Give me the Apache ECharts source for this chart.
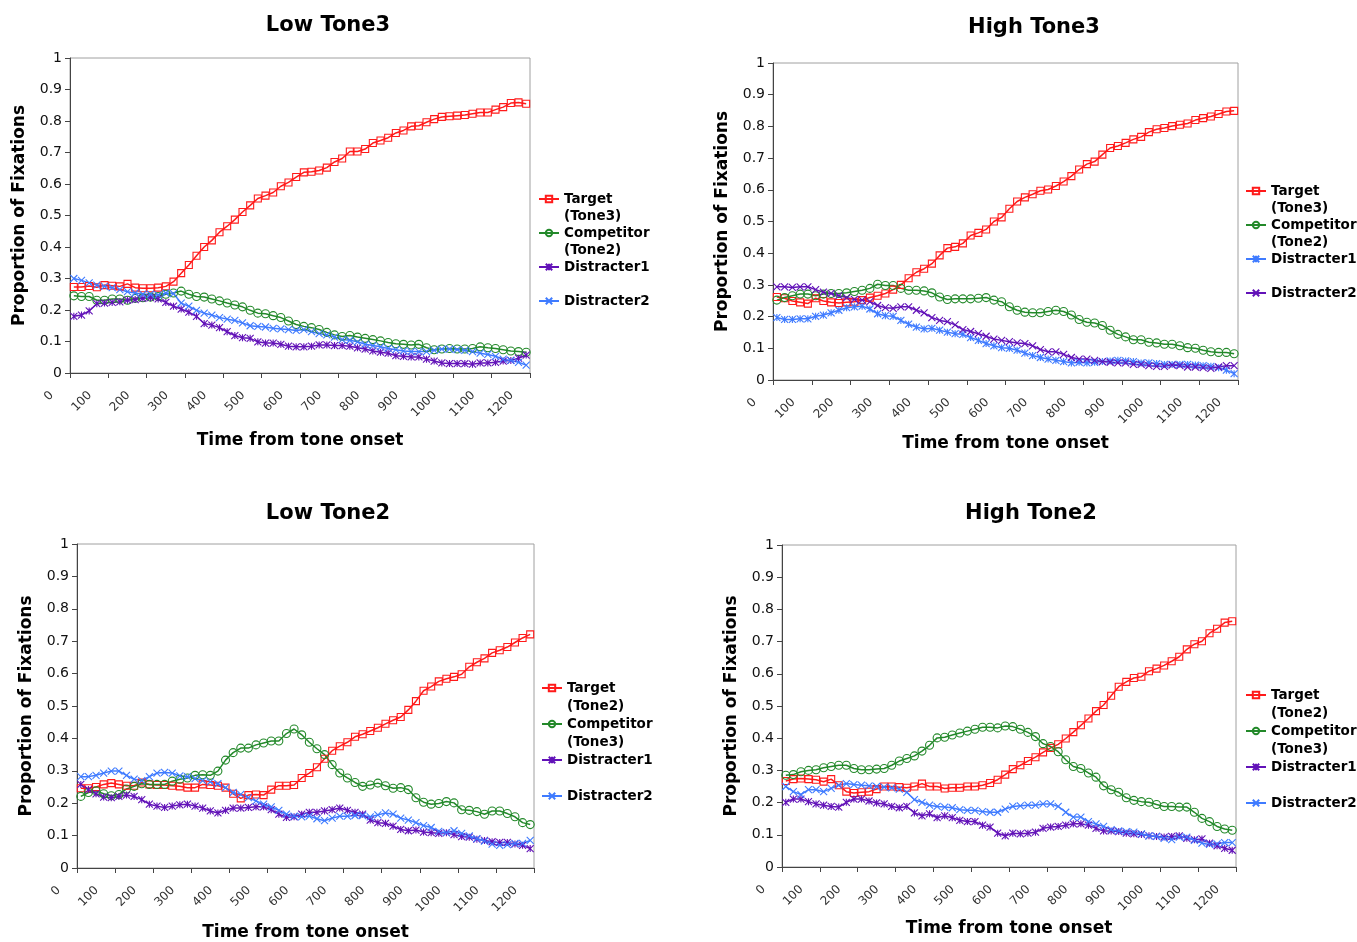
<!DOCTYPE html>
<html>
<head>
<meta charset="utf-8">
<title>Proportion of Fixations</title>
<script src="https://cdn.jsdelivr.net/npm/echarts@6/dist/echarts.min.js"></script>
<style>
  html, body { margin: 0; padding: 0; background: #fff; }
  #chart { width: 1357px; height: 942px; }
</style>
</head>
<body>
<div id="chart"></div>
<script>
// time bins (ms from tone onset, bin centres)
const times = [10, 30, 50, 70, 90, 110, 130, 150, 170, 190, 210, 230, 250, 270, 290, 310, 330, 350, 370, 390,
  410, 430, 450, 470, 490, 510, 530, 550, 570, 590, 610, 630, 650, 670, 690, 710, 730, 750, 770, 790,
  810, 830, 850, 870, 890, 910, 930, 950, 970, 990, 1010, 1030, 1050, 1070, 1090, 1110, 1130, 1150, 1170, 1190];

const panelTitles = ['Low Tone3', 'High Tone3', 'Low Tone2', 'High Tone2'];
const tone3Labels = ['Target\n(Tone3)', 'Competitor\n(Tone2)', 'Distracter1', 'Distracter2'];
const tone2Labels = ['Target\n(Tone2)', 'Competitor\n(Tone3)', 'Distracter1', 'Distracter2'];

// Low Tone3
const lowT3Target = [0.273, 0.273, 0.276, 0.272, 0.279, 0.277, 0.275, 0.283, 0.271, 0.269,
  0.269, 0.271, 0.275, 0.29, 0.317, 0.343, 0.372, 0.40, 0.421, 0.447,
  0.466, 0.487, 0.511, 0.532, 0.554, 0.563, 0.573, 0.593, 0.605, 0.622,
  0.637, 0.639, 0.643, 0.652, 0.670, 0.681, 0.703, 0.703, 0.711, 0.730,
  0.738, 0.747, 0.762, 0.770, 0.783, 0.785, 0.796, 0.806, 0.813, 0.815,
  0.817, 0.819, 0.823, 0.827, 0.827, 0.836, 0.844, 0.857, 0.859, 0.855];
const lowT3Competitor = [0.245, 0.243, 0.243, 0.231, 0.231, 0.235, 0.235, 0.231, 0.237, 0.239,
  0.241, 0.243, 0.25, 0.254, 0.26, 0.25, 0.243, 0.241, 0.235, 0.229,
  0.222, 0.216, 0.21, 0.199, 0.19, 0.188, 0.182, 0.176, 0.165, 0.154,
  0.148, 0.144, 0.138, 0.129, 0.121, 0.116, 0.119, 0.114, 0.110, 0.106,
  0.102, 0.097, 0.093, 0.091, 0.089, 0.091, 0.080, 0.074, 0.076, 0.078,
  0.076, 0.076, 0.078, 0.083, 0.080, 0.078, 0.074, 0.070, 0.068, 0.066];
const lowT3Dis1 = [0.18, 0.184, 0.197, 0.22, 0.222, 0.224, 0.226, 0.231, 0.233, 0.237,
  0.239, 0.235, 0.224, 0.212, 0.203, 0.193, 0.18, 0.157, 0.152, 0.144,
  0.131, 0.119, 0.112, 0.110, 0.099, 0.095, 0.095, 0.091, 0.085, 0.083,
  0.083, 0.085, 0.089, 0.089, 0.087, 0.087, 0.085, 0.080, 0.076, 0.070,
  0.066, 0.063, 0.055, 0.053, 0.051, 0.051, 0.044, 0.038, 0.032, 0.030,
  0.030, 0.030, 0.028, 0.032, 0.032, 0.034, 0.038, 0.040, 0.047, 0.057];
const lowT3Dis2 = [0.30, 0.294, 0.286, 0.279, 0.275, 0.271, 0.265, 0.258, 0.254, 0.25,
  0.25, 0.248, 0.254, 0.252, 0.222, 0.212, 0.199, 0.19, 0.184, 0.176,
  0.171, 0.167, 0.159, 0.15, 0.148, 0.146, 0.142, 0.140, 0.138, 0.135,
  0.138, 0.131, 0.125, 0.121, 0.114, 0.106, 0.104, 0.099, 0.091, 0.087,
  0.083, 0.078, 0.074, 0.070, 0.068, 0.068, 0.068, 0.072, 0.076, 0.076,
  0.074, 0.072, 0.068, 0.063, 0.059, 0.053, 0.044, 0.040, 0.034, 0.025];

// High Tone3
const highT3Target = [0.262, 0.258, 0.249, 0.245, 0.241, 0.258, 0.249, 0.245, 0.243, 0.245,
  0.247, 0.252, 0.26, 0.266, 0.273, 0.285, 0.30, 0.321, 0.34, 0.351,
  0.367, 0.393, 0.416, 0.42, 0.431, 0.456, 0.464, 0.475, 0.50, 0.513,
  0.54, 0.563, 0.576, 0.586, 0.597, 0.601, 0.612, 0.626, 0.643, 0.664,
  0.681, 0.689, 0.711, 0.732, 0.738, 0.748, 0.759, 0.767, 0.782, 0.791,
  0.795, 0.801, 0.805, 0.809, 0.82, 0.826, 0.831, 0.839, 0.847, 0.849];
const highT3Competitor = [0.252, 0.26, 0.266, 0.271, 0.271, 0.266, 0.271, 0.273, 0.273, 0.275,
  0.279, 0.283, 0.289, 0.302, 0.298, 0.298, 0.289, 0.283, 0.283, 0.281,
  0.275, 0.262, 0.254, 0.256, 0.256, 0.256, 0.258, 0.26, 0.252, 0.247,
  0.231, 0.22, 0.214, 0.212, 0.212, 0.216, 0.22, 0.216, 0.205, 0.191,
  0.182, 0.18, 0.172, 0.157, 0.144, 0.136, 0.127, 0.127, 0.119, 0.117,
  0.113, 0.113, 0.108, 0.102, 0.10, 0.094, 0.089, 0.087, 0.087, 0.083];
const highT3Dis1 = [0.197, 0.191, 0.191, 0.193, 0.193, 0.201, 0.205, 0.212, 0.22, 0.228,
  0.231, 0.233, 0.224, 0.209, 0.203, 0.201, 0.188, 0.176, 0.167, 0.161,
  0.163, 0.157, 0.151, 0.146, 0.144, 0.134, 0.125, 0.115, 0.108, 0.102,
  0.10, 0.094, 0.085, 0.077, 0.071, 0.066, 0.062, 0.058, 0.054, 0.056,
  0.054, 0.056, 0.058, 0.06, 0.062, 0.06, 0.058, 0.054, 0.054, 0.052,
  0.049, 0.049, 0.049, 0.049, 0.047, 0.045, 0.043, 0.039, 0.031, 0.02];
const highT3Dis2 = [0.294, 0.294, 0.292, 0.294, 0.294, 0.285, 0.277, 0.273, 0.266, 0.26,
  0.254, 0.252, 0.247, 0.235, 0.228, 0.226, 0.231, 0.231, 0.22, 0.212,
  0.197, 0.188, 0.184, 0.174, 0.159, 0.153, 0.146, 0.138, 0.129, 0.125,
  0.121, 0.117, 0.115, 0.108, 0.096, 0.089, 0.089, 0.081, 0.071, 0.066,
  0.066, 0.062, 0.058, 0.056, 0.054, 0.054, 0.049, 0.049, 0.045, 0.043,
  0.043, 0.047, 0.045, 0.041, 0.041, 0.039, 0.037, 0.041, 0.045, 0.045];

// Low Tone2
const lowT2Target = [0.246, 0.246, 0.25, 0.258, 0.262, 0.258, 0.254, 0.254, 0.264, 0.258,
  0.256, 0.256, 0.254, 0.252, 0.248, 0.248, 0.258, 0.256, 0.254, 0.248,
  0.229, 0.215, 0.225, 0.227, 0.225, 0.242, 0.254, 0.254, 0.256, 0.278,
  0.293, 0.311, 0.337, 0.362, 0.376, 0.388, 0.405, 0.413, 0.423, 0.433,
  0.445, 0.456, 0.466, 0.488, 0.515, 0.547, 0.56, 0.576, 0.584, 0.59,
  0.598, 0.621, 0.635, 0.647, 0.664, 0.672, 0.682, 0.696, 0.71, 0.721];
const lowT2Competitor = [0.221, 0.233, 0.238, 0.229, 0.223, 0.227, 0.244, 0.252, 0.26, 0.258,
  0.258, 0.258, 0.268, 0.274, 0.278, 0.286, 0.288, 0.286, 0.299, 0.333,
  0.356, 0.37, 0.37, 0.38, 0.386, 0.392, 0.392, 0.415, 0.429, 0.411,
  0.388, 0.368, 0.35, 0.319, 0.293, 0.278, 0.264, 0.252, 0.256, 0.262,
  0.254, 0.246, 0.248, 0.242, 0.217, 0.203, 0.197, 0.199, 0.205, 0.201,
  0.18, 0.178, 0.174, 0.166, 0.176, 0.176, 0.168, 0.158, 0.14, 0.134];
const lowT2Dis1 = [0.258, 0.242, 0.229, 0.219, 0.217, 0.221, 0.225, 0.221, 0.211, 0.197,
  0.191, 0.187, 0.191, 0.195, 0.197, 0.191, 0.185, 0.176, 0.17, 0.178,
  0.185, 0.185, 0.187, 0.189, 0.189, 0.18, 0.166, 0.156, 0.158, 0.166,
  0.172, 0.172, 0.176, 0.18, 0.185, 0.178, 0.172, 0.166, 0.148, 0.14,
  0.138, 0.129, 0.119, 0.115, 0.117, 0.111, 0.109, 0.107, 0.109, 0.103,
  0.097, 0.095, 0.089, 0.085, 0.081, 0.079, 0.079, 0.074, 0.07, 0.06];
const lowT2Dis2 = [0.282, 0.282, 0.286, 0.293, 0.299, 0.299, 0.286, 0.274, 0.27, 0.282,
  0.293, 0.295, 0.293, 0.284, 0.282, 0.276, 0.27, 0.266, 0.26, 0.248,
  0.233, 0.227, 0.217, 0.207, 0.197, 0.189, 0.178, 0.166, 0.16, 0.158,
  0.16, 0.152, 0.146, 0.154, 0.16, 0.16, 0.162, 0.162, 0.158, 0.164,
  0.17, 0.166, 0.154, 0.148, 0.14, 0.131, 0.125, 0.113, 0.109, 0.115,
  0.107, 0.099, 0.091, 0.083, 0.074, 0.07, 0.072, 0.076, 0.076, 0.085];

// High Tone2
const highT2Target = [0.267, 0.273, 0.275, 0.273, 0.271, 0.265, 0.273, 0.254, 0.234, 0.23,
  0.232, 0.234, 0.242, 0.25, 0.25, 0.248, 0.246, 0.25, 0.259, 0.25,
  0.25, 0.244, 0.246, 0.246, 0.25, 0.25, 0.254, 0.261, 0.271, 0.287,
  0.304, 0.316, 0.329, 0.341, 0.356, 0.37, 0.381, 0.399, 0.419, 0.44,
  0.461, 0.484, 0.503, 0.532, 0.56, 0.575, 0.587, 0.591, 0.608, 0.616,
  0.626, 0.639, 0.653, 0.676, 0.692, 0.701, 0.726, 0.74, 0.759, 0.763];
const highT2Competitor = [0.285, 0.287, 0.296, 0.30, 0.302, 0.308, 0.312, 0.316, 0.316, 0.306,
  0.302, 0.302, 0.304, 0.306, 0.316, 0.329, 0.337, 0.345, 0.36, 0.378,
  0.401, 0.403, 0.41, 0.416, 0.422, 0.428, 0.434, 0.434, 0.432, 0.438,
  0.436, 0.428, 0.418, 0.405, 0.383, 0.374, 0.358, 0.333, 0.312, 0.306,
  0.292, 0.279, 0.252, 0.24, 0.232, 0.215, 0.207, 0.203, 0.201, 0.194,
  0.188, 0.188, 0.186, 0.186, 0.17, 0.151, 0.141, 0.126, 0.118, 0.114];
const highT2Dis1 = [0.201, 0.211, 0.211, 0.203, 0.196, 0.192, 0.188, 0.186, 0.201, 0.211,
  0.211, 0.205, 0.199, 0.196, 0.188, 0.184, 0.188, 0.168, 0.159, 0.165,
  0.153, 0.159, 0.153, 0.145, 0.141, 0.141, 0.13, 0.124, 0.105, 0.097,
  0.105, 0.103, 0.105, 0.108, 0.12, 0.124, 0.126, 0.13, 0.134, 0.134,
  0.13, 0.12, 0.112, 0.112, 0.11, 0.105, 0.103, 0.101, 0.097, 0.095,
  0.093, 0.095, 0.097, 0.089, 0.085, 0.087, 0.074, 0.066, 0.058, 0.052];
const highT2Dis2 = [0.25, 0.234, 0.225, 0.24, 0.24, 0.234, 0.244, 0.254, 0.259, 0.256,
  0.254, 0.252, 0.25, 0.248, 0.246, 0.242, 0.232, 0.209, 0.201, 0.192,
  0.188, 0.186, 0.184, 0.178, 0.176, 0.176, 0.172, 0.17, 0.17, 0.18,
  0.188, 0.19, 0.192, 0.192, 0.196, 0.196, 0.188, 0.17, 0.155, 0.155,
  0.141, 0.134, 0.126, 0.116, 0.112, 0.11, 0.108, 0.103, 0.097, 0.095,
  0.089, 0.085, 0.093, 0.093, 0.083, 0.074, 0.07, 0.072, 0.076, 0.076];

const RED = '#ff1a1a', GREEN = '#23892a', PURPLE = '#6212b8', BLUE = '#3f7bff';
const FONT = 'DejaVu Sans';

// marker shapes: hollow square, hollow circle, asterisk, cross
const markers = [
  { symbol: 'rect', size: 7 },
  { symbol: 'circle', size: 8 },
  { symbol: 'path://M5,0L5,10M0,0L10,10M10,0L0,10', size: 7 },
  { symbol: 'path://M0,0L10,10M10,0L0,10', size: 7 }
];

const panels = [
  { titleX: 323, titleY: 10, labels: tone3Labels,
    values: [lowT3Target, lowT3Competitor, lowT3Dis1, lowT3Dis2], colors: [RED, GREEN, PURPLE, BLUE],
    grid: { left: 70, top: 58, width: 460, height: 315 }, xGap: 59, yGap: 42,
    legendX: 538, legendLine: 199, lh: 17 },
  { titleX: 1029, titleY: 12, labels: tone3Labels,
    values: [highT3Target, highT3Competitor, highT3Dis1, highT3Dis2], colors: [RED, GREEN, BLUE, PURPLE],
    grid: { left: 773, top: 63, width: 465, height: 317 }, xGap: 55, yGap: 42,
    legendX: 1245, legendLine: 191, lh: 17 },
  { titleX: 323, titleY: 498, labels: tone2Labels,
    values: [lowT2Target, lowT2Competitor, lowT2Dis1, lowT2Dis2], colors: [RED, GREEN, PURPLE, BLUE],
    grid: { left: 77, top: 544, width: 457, height: 327 }, xGap: 56, yGap: 42,
    legendX: 541, legendLine: 688, lh: 18 },
  { titleX: 1026, titleY: 498, labels: tone2Labels,
    values: [highT2Target, highT2Competitor, highT2Dis1, highT2Dis2], colors: [RED, GREEN, PURPLE, BLUE],
    grid: { left: 782, top: 545, width: 454, height: 322 }, xGap: 53, yGap: 42,
    legendX: 1245, legendLine: 695, lh: 18 }
];

const option = {
  backgroundColor: '#fff',
  animation: false,
  textStyle: { fontFamily: FONT },
  title: [], grid: [], xAxis: [], yAxis: [], legend: [], series: []
};

const legendText = {};

panels.forEach((p, k) => {
  option.title.push({
    text: panelTitles[k], left: p.titleX, top: p.titleY, textAlign: 'center',
    textStyle: { fontFamily: FONT, fontSize: 21, fontWeight: 'bold', color: '#000' }
  });
  option.grid.push(Object.assign({ show: true, borderColor: '#a0a0a0', borderWidth: 1 }, p.grid));
  option.xAxis.push({
    type: 'value', gridIndex: k, min: 0, max: 1200, interval: 100,
    name: 'Time from tone onset', nameLocation: 'middle', nameGap: p.xGap,
    nameTextStyle: { fontFamily: FONT, fontSize: 17, fontWeight: 'bold', color: '#000' },
    axisLine: { lineStyle: { color: '#444', width: 1 } },
    axisTick: { length: 5, lineStyle: { color: '#444' } },
    axisLabel: { rotate: 45, fontSize: 12, color: '#333', margin: 2, padding: [0, 26, 0, 0],
      fontFamily: FONT, formatter: v => String(v) },
    splitLine: { show: false }
  });
  option.yAxis.push({
    type: 'value', gridIndex: k, min: 0, max: 1, interval: 0.1,
    name: 'Proportion of Fixations', nameLocation: 'middle', nameGap: p.yGap,
    nameTextStyle: { fontFamily: FONT, fontSize: 17, fontWeight: 'bold', color: '#000' },
    axisLine: { show: true, lineStyle: { color: '#444', width: 1 } },
    axisTick: { show: true, length: 5, lineStyle: { color: '#444' } },
    axisLabel: { fontSize: 14, color: '#111', margin: 8, fontFamily: FONT,
      formatter: v => String(Math.round(v * 10) / 10) },
    splitLine: { show: false }
  });

  const names = p.labels.map((lab, j) => 'p' + k + 's' + j);
  // blank lines keep the icon on the first text line and give every item the same height
  names.forEach((n, j) => {
    const lab = p.labels[j];
    legendText[n] = lab.indexOf('\n') >= 0 ? '\n' + lab : '\n' + lab + '\n';
  });

  p.values.forEach((vals, j) => {
    const c = p.colors[j];
    option.series.push({
      name: names[j], type: 'line', xAxisIndex: k, yAxisIndex: k,
      data: times.map((t, i) => [t, vals[i]]),
      symbol: markers[j].symbol, symbolSize: markers[j].size, showSymbol: true,
      lineStyle: { color: c, width: 1.5 },
      itemStyle: { color: 'transparent', borderColor: c, borderWidth: 1.1 },
      emphasis: { disabled: true },
      silent: true
    });
  });

  option.legend.push({
    orient: 'vertical', left: p.legendX, top: p.legendLine - 1.5 * p.lh,
    padding: 0, itemGap: -p.lh, itemWidth: 20, itemHeight: 8,
    selectedMode: false,
    textStyle: { fontFamily: FONT, fontSize: 13.5, fontWeight: 'bold', color: '#000', lineHeight: p.lh },
    formatter: n => legendText[n],
    data: names
  });
});

const chart = echarts.init(document.getElementById('chart'), null, { renderer: 'canvas' });
chart.setOption(option);
</script>
</body>
</html>
